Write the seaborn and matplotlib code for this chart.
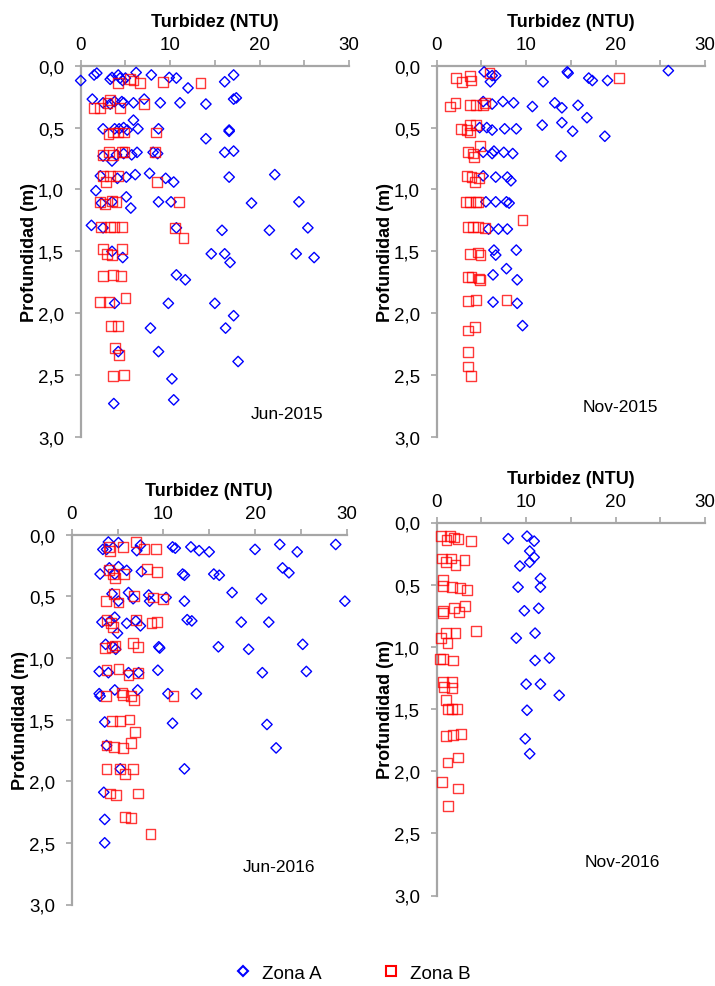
import matplotlib
matplotlib.use("Agg")
import matplotlib.pyplot as plt
import seaborn as sns
from matplotlib.ticker import MultipleLocator, FuncFormatter
from matplotlib.lines import Line2D

# ---------------- DATA ----------------
# Jun-2015
jun15_a_ntu = [0.0, 1.5, 1.8, 3.3, 3.5, 4.2, 4.4, 4.7, 5.0, 6.2, 7.9, 9.9, 10.7, 12.0, 16.1, 17.1,
               1.3, 2.5, 3.3, 3.8, 4.6, 4.8, 5.9, 7.1, 8.9, 11.1, 14.0, 17.1, 17.4,
               2.5, 3.8, 4.3, 4.8, 5.2, 5.9, 6.4, 8.7, 14.0, 16.6, 16.6,
               2.5, 3.5, 4.0, 4.8, 5.7, 6.3, 8.1, 8.6, 16.1, 17.1,
               2.2, 4.1, 5.1, 6.1, 7.7, 9.5, 10.4, 16.6, 21.7,
               1.7, 2.3, 3.5, 5.1, 5.6, 8.7, 10.1, 19.1, 24.4,
               1.2, 2.5, 10.7, 15.8, 21.1, 25.4,
               3.5, 4.7, 14.6, 16.1, 16.7, 24.1, 26.1,
               10.7, 11.7,
               3.8, 9.8, 15.0,
               7.8, 16.2, 17.1,
               4.2, 8.7, 17.6,
               10.2,
               3.7, 10.4]
jun15_a_depth = [0.12, 0.075, 0.06, 0.11, 0.095, 0.075, 0.10, 0.12, 0.10, 0.055, 0.075, 0.095, 0.10, 0.18, 0.13, 0.075,
                 0.27, 0.30, 0.31, 0.29, 0.29, 0.30, 0.30, 0.27, 0.30, 0.30, 0.31, 0.27, 0.26,
                 0.51, 0.51, 0.51, 0.50, 0.52, 0.44, 0.51, 0.51, 0.59, 0.52, 0.53,
                 0.73, 0.77, 0.72, 0.71, 0.72, 0.70, 0.70, 0.71, 0.70, 0.69,
                 0.89, 0.91, 0.90, 0.88, 0.87, 0.91, 0.94, 0.90, 0.88,
                 1.01, 1.11, 1.10, 1.06, 1.15, 1.10, 1.10, 1.11, 1.10,
                 1.29, 1.31, 1.31, 1.33, 1.33, 1.31,
                 1.50, 1.55, 1.52, 1.52, 1.59, 1.52, 1.55,
                 1.69, 1.73,
                 1.92, 1.92, 1.92,
                 2.12, 2.12, 2.02,
                 2.31, 2.31, 2.39,
                 2.53,
                 2.73, 2.70]
jun15_b_ntu = [4.2, 5.5, 5.9, 6.6, 9.2, 13.4,
               1.5, 2.2, 3.0, 3.3, 4.4, 7.1,
               3.1, 3.6, 4.2, 4.8, 8.4,
               2.5, 3.2, 3.6, 4.6, 4.9, 8.3,
               2.5, 2.8, 3.3, 4.2, 8.5,
               2.2, 2.7, 3.5, 4.0, 11.0,
               2.3, 3.3, 3.7, 4.6, 10.5, 11.5,
               2.5, 4.6, 2.9, 3.5,
               2.5, 3.6, 4.5,
               2.2, 3.2, 5.0,
               3.4, 4.2,
               3.8, 4.3,
               3.6, 4.8]
jun15_b_depth = [0.14, 0.11, 0.12, 0.14, 0.13, 0.14,
                 0.34, 0.34, 0.30, 0.28, 0.34, 0.31,
                 0.55, 0.54, 0.54, 0.54, 0.54,
                 0.72, 0.70, 0.72, 0.70, 0.70, 0.70,
                 0.89, 0.94, 0.89, 0.89, 0.94,
                 1.10, 1.12, 1.09, 1.10, 1.10,
                 1.30, 1.30, 1.30, 1.30, 1.31, 1.39,
                 1.48, 1.48, 1.52, 1.53,
                 1.70, 1.69, 1.70,
                 1.91, 1.91, 1.88,
                 2.10, 2.10,
                 2.28, 2.34,
                 2.51, 2.50]

# Nov-2015
nov15_a_ntu = [5.3, 6.2, 6.6, 6.0, 11.9, 14.6, 14.7, 17.0, 17.4, 19.1, 25.9,
               5.2, 6.2, 7.4, 8.6, 10.7, 13.2, 14.0, 15.8, 16.8,
               4.8, 5.6, 6.2, 7.6, 8.9, 11.8, 14.0, 15.2, 18.8,
               5.2, 6.2, 6.4, 7.5, 8.5, 13.9,
               5.2, 6.6, 7.9, 8.3,
               5.5, 6.6, 7.8, 8.1,
               5.8, 6.9, 7.9,
               6.4, 6.6, 8.9,
               6.3, 7.8, 9.0,
               6.3, 9.0,
               9.6]
nov15_a_depth = [0.05, 0.08, 0.08, 0.13, 0.13, 0.05, 0.06, 0.10, 0.12, 0.12, 0.04,
                 0.29, 0.31, 0.29, 0.30, 0.33, 0.30, 0.34, 0.32, 0.42,
                 0.50, 0.50, 0.52, 0.51, 0.51, 0.48, 0.46, 0.53, 0.57,
                 0.70, 0.71, 0.69, 0.70, 0.71, 0.73,
                 0.89, 0.90, 0.90, 0.93,
                 1.10, 1.10, 1.10, 1.11,
                 1.32, 1.32, 1.32,
                 1.49, 1.53, 1.49,
                 1.69, 1.64, 1.73,
                 1.91, 1.92,
                 2.10]
nov15_b_ntu = [2.2, 2.8, 3.7, 3.8, 5.9, 20.4,
               1.5, 2.1, 3.7, 4.4, 5.2, 5.4,
               2.7, 3.4, 3.7, 4.4, 3.7,
               3.5, 4.1, 4.8, 4.2,
               3.4, 3.9, 4.3, 4.7,
               3.3, 3.7, 4.4, 4.6,
               3.5, 4.1, 4.6, 5.4, 9.6,
               3.7, 4.6, 4.9,
               3.5, 3.9, 4.7, 4.8,
               3.5, 4.4, 7.8,
               3.5, 4.3,
               3.5, 3.5, 3.8]
nov15_b_depth = [0.10, 0.13, 0.08, 0.12, 0.06, 0.10,
                 0.33, 0.30, 0.32, 0.32, 0.32, 0.30,
                 0.51, 0.52, 0.48, 0.48, 0.54,
                 0.70, 0.71, 0.65, 0.74,
                 0.89, 0.90, 0.94, 0.91,
                 1.10, 1.10, 1.10, 1.10,
                 1.30, 1.30, 1.30, 1.31, 1.25,
                 1.52, 1.51, 1.53,
                 1.71, 1.71, 1.72, 1.73,
                 1.90, 1.89, 1.89,
                 2.14, 2.11,
                 2.31, 2.43, 2.51]

# Jun-2016
jun16_a_ntu = [4.0, 3.4, 3.8, 5.1, 7.5, 7.1, 11.0, 11.3, 13.0, 13.9, 15.0, 20.0, 22.7, 24.6, 28.8,
               3.1, 4.1, 4.7, 5.1, 6.0, 7.6, 12.1, 12.3, 15.5, 16.1, 23.0, 23.7,
               4.4, 5.1, 6.2, 6.7, 8.4, 8.5, 10.3, 12.3, 17.5, 20.7, 29.8,
               3.3, 4.2, 5.0, 4.7, 6.0, 7.5, 7.0, 12.6, 13.1, 18.5, 21.5,
               3.7, 4.5, 4.8, 9.5, 9.6, 16.0, 19.3, 25.2,
               3.0, 4.0, 6.2, 7.3, 9.4, 20.8, 25.6,
               3.0, 3.1, 4.7, 7.2, 10.5, 13.6,
               3.6, 11.0, 21.3,
               3.8, 22.3,
               5.3, 12.3,
               3.5, 3.6, 3.6]
jun16_a_depth = [0.06, 0.12, 0.12, 0.065, 0.086, 0.13, 0.10, 0.11, 0.10, 0.13, 0.14, 0.12, 0.08, 0.14, 0.08,
                 0.32, 0.27, 0.32, 0.26, 0.29, 0.30, 0.32, 0.33, 0.32, 0.33, 0.27, 0.31,
                 0.48, 0.54, 0.47, 0.52, 0.49, 0.54, 0.51, 0.54, 0.47, 0.52, 0.54,
                 0.71, 0.70, 0.80, 0.67, 0.72, 0.74, 0.70, 0.69, 0.70, 0.71, 0.71,
                 0.89, 0.91, 0.93, 0.91, 0.92, 0.91, 0.93, 0.89,
                 1.11, 1.12, 1.12, 1.12, 1.10, 1.12, 1.11,
                 1.29, 1.31, 1.26, 1.26, 1.29, 1.29,
                 1.52, 1.53, 1.54,
                 1.71, 1.73,
                 1.90, 1.90,
                 2.09, 2.31, 2.50]
jun16_b_ntu = [4.1, 4.2, 5.6, 7.0, 7.9, 9.2,
               4.1, 4.5, 4.7, 5.7, 8.2, 9.3,
               3.7, 4.6, 5.1, 6.8, 8.9, 10.0,
               3.8, 4.3, 4.5, 7.0, 8.7, 9.3,
               3.6, 4.4, 4.7, 6.7, 7.2,
               3.8, 5.1, 6.2, 7.2,
               3.7, 5.5, 5.6, 6.5, 6.8, 11.1,
               4.4, 5.3, 6.3, 6.9,
               3.8, 4.6, 5.6, 6.5,
               3.8, 5.3, 5.8, 6.7,
               4.2, 4.8, 7.2,
               5.8, 6.5,
               8.6]
jun16_b_depth = [0.10, 0.13, 0.10, 0.06, 0.12, 0.12,
                 0.29, 0.32, 0.35, 0.32, 0.28, 0.30,
                 0.54, 0.48, 0.55, 0.50, 0.51, 0.52,
                 0.69, 0.72, 0.75, 0.69, 0.72, 0.71,
                 0.92, 0.91, 0.90, 0.88, 0.91,
                 1.10, 1.09, 1.14, 1.12,
                 1.31, 1.28, 1.30, 1.31, 1.34, 1.31,
                 1.51, 1.51, 1.50, 1.60,
                 1.71, 1.72, 1.73, 1.69,
                 1.90, 1.90, 1.94, 1.90,
                 2.10, 2.11, 2.10,
                 2.29, 2.30,
                 2.43]

# Nov-2016
nov16_a_ntu = [8.0, 10.1, 10.9,
               10.4, 10.9, 10.4, 9.3,
               11.6, 11.6, 9.1,
               9.8, 11.4,
               8.9, 11.0,
               11.0, 12.6,
               10.0, 11.6, 13.7,
               10.1,
               9.9, 10.4]
nov16_a_depth = [0.13, 0.11, 0.15,
                 0.23, 0.28, 0.32, 0.35,
                 0.45, 0.52, 0.52,
                 0.71, 0.69,
                 0.93, 0.89,
                 1.11, 1.09,
                 1.30, 1.30, 1.39,
                 1.51,
                 1.74, 1.86]
nov16_b_ntu = [0.45, 1.5, 1.1, 1.9, 2.4, 3.8,
               0.6, 1.0, 1.6, 2.1, 3.1,
               0.75, 0.7, 1.7, 2.6, 3.4,
               0.7, 0.75, 1.9, 2.5, 3.2,
               0.45, 1.0, 1.2, 2.1, 4.4,
               0.4, 0.7, 1.8,
               0.7, 1.7, 0.8, 1.7,
               1.0, 1.3, 1.7, 2.3,
               1.0, 1.8, 2.7,
               1.2, 2.4,
               0.6, 2.4,
               1.3]
nov16_b_depth = [0.11, 0.11, 0.14, 0.12, 0.13, 0.15,
                 0.29, 0.32, 0.29, 0.34, 0.30,
                 0.46, 0.51, 0.52, 0.53, 0.54,
                 0.71, 0.73, 0.69, 0.72, 0.67,
                 0.93, 0.89, 0.97, 0.89, 0.87,
                 1.10, 1.10, 1.11,
                 1.28, 1.28, 1.32, 1.33,
                 1.43, 1.50, 1.50, 1.50,
                 1.72, 1.71, 1.70,
                 1.93, 1.89,
                 2.09, 2.14,
                 2.28]

panel_titles = ["Jun-2015", "Nov-2015", "Jun-2016", "Nov-2016"]
legend_labels = ["Zona A", "Zona B"]
x_label = "Turbidez (NTU)"
y_label = "Profundidad (m)"

# ---------------- STYLE ----------------
sns.set_theme(style="white")
plt.rcParams['font.family'] = ['Liberation Sans', 'DejaVu Sans']
plt.rcParams['text.color'] = 'black'
plt.rcParams['axes.labelcolor'] = 'black'

BLUE = "#0000FF"
RED = (1.0, 0.0, 0.0, 0.78)
SPINE = "#A6A6A6"
W, H = 715, 987
FS_TICK = 13.5
FS_LAB = 13.0
FS_TXT = 12.5

fig = plt.figure(figsize=(W / 100, H / 100), dpi=100)

# axes boxes in pixels: left, right, top(depth 0), bottom(depth 3)
boxes = [(80.7, 349.0, 66.7, 438.0),
         (436.7, 705.0, 66.7, 438.0),
         (71.7, 346.7, 535.6, 905.5),
         (436.7, 705.0, 523.5, 896.5)]
text_pos = [(0.769, 0.062), (0.683, 0.081), (0.754, 0.102), (0.691, 0.091)]

data = [(jun15_a_ntu, jun15_a_depth, jun15_b_ntu, jun15_b_depth),
        (nov15_a_ntu, nov15_a_depth, nov15_b_ntu, nov15_b_depth),
        (jun16_a_ntu, jun16_a_depth, jun16_b_ntu, jun16_b_depth),
        (nov16_a_ntu, nov16_a_depth, nov16_b_ntu, nov16_b_depth)]

fmt = FuncFormatter(lambda v, p: f"{v:.1f}".replace(".", ","))

for (l, r, t, b), (an, ad, bn, bd), title, (tx, ty) in zip(boxes, data, panel_titles, text_pos):
    ax = fig.add_axes([l / W, 1 - b / H, (r - l) / W, (b - t) / H])
    sns.scatterplot(x=an, y=ad, ax=ax, marker="D", s=28, facecolors="none",
                    edgecolor=BLUE, linewidth=1.0, clip_on=False, zorder=3)
    sns.scatterplot(x=bn, y=bd, ax=ax, marker="s", s=50, facecolors="none",
                    edgecolor=RED, linewidth=1.0, clip_on=False, zorder=4)
    ax.set_xlim(0, 30)
    ax.set_ylim(3, 0)
    ax.xaxis.tick_top()
    ax.xaxis.set_label_position("top")
    ax.xaxis.set_major_locator(MultipleLocator(10))
    ax.xaxis.set_minor_locator(MultipleLocator(5))
    ax.yaxis.set_major_locator(MultipleLocator(0.5))
    ax.yaxis.set_major_formatter(fmt)
    ax.tick_params(axis="both", which="both", direction="out", length=4,
                   width=1.2, color=SPINE, labelsize=FS_TICK, labelcolor="black")
    ax.tick_params(axis="x", which="both", top=True, bottom=False, pad=5)
    ax.tick_params(axis="y", left=True, right=False, pad=8)
    for side in ["right", "bottom"]:
        ax.spines[side].set_visible(False)
    for side in ["top", "left"]:
        ax.spines[side].set_visible(True)
        ax.spines[side].set_color(SPINE)
        ax.spines[side].set_linewidth(1.6)
    ax.set_xlabel(x_label, fontweight="bold", fontsize=FS_LAB, labelpad=7.5, color="black")
    ax.set_ylabel(y_label, fontweight="bold", fontsize=FS_LAB, labelpad=0, color="black")
    ax.text(tx, ty, title, transform=ax.transAxes, ha="center", va="center",
            fontsize=FS_TXT, color="black")

handles = [Line2D([], [], linestyle="none", marker="D", markersize=5.6,
                  markerfacecolor="none", markeredgecolor=BLUE, markeredgewidth=1.5),
           Line2D([], [], linestyle="none", marker="s", markersize=7.6,
                  markerfacecolor="none", markeredgecolor=(1, 0, 0), markeredgewidth=1.5)]
fig.legend(handles, legend_labels, loc="center", bbox_to_anchor=(352 / W, 1 - 974 / H),
           ncol=2, frameon=False, fontsize=FS_TICK, handlelength=1.0, handletextpad=0.5,
           columnspacing=3.2)

fig.savefig("out.png", dpi=100)
